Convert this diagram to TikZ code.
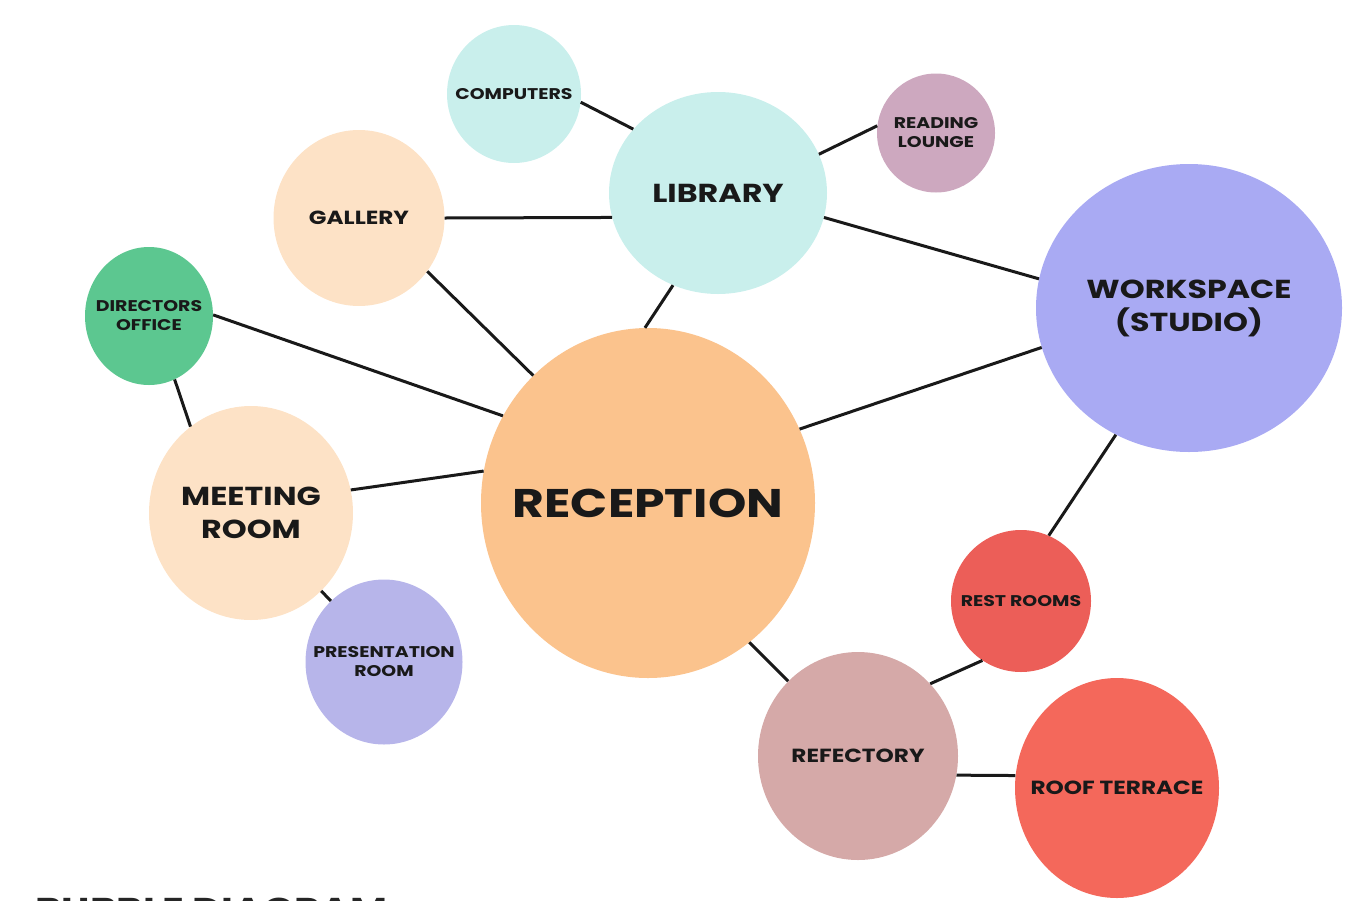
\documentclass[tikz,border=0pt]{standalone}
\usepackage{fontspec}
\setmainfont{Poppins}[FakeStretch=1.22]
\usetikzlibrary{positioning,shapes.geometric}

\definecolor{libcol}{HTML}{C9EFEC}
\definecolor{readcol}{HTML}{CDA8BF}
\definecolor{peachcol}{HTML}{FDE2C6}
\definecolor{workcol}{HTML}{A9AAF3}
\definecolor{dircol}{HTML}{5CC790}
\definecolor{reccol}{HTML}{FBC38D}
\definecolor{prescol}{HTML}{B7B5EA}
\definecolor{restcol}{HTML}{EC5E58}
\definecolor{refcol}{HTML}{D5A9A8}
\definecolor{roofcol}{HTML}{F4685B}

\tikzset{
  room/.style={ellipse, draw=none, inner sep=0pt},
  lbl/.style={align=center, text=black!90, font=\bfseries},
  txtS/.style={lbl, font=\bfseries\fontsize{15.5}{19}\selectfont},
  txtM/.style={lbl, font=\bfseries\fontsize{19}{23}\selectfont},
  txtL/.style={lbl, font=\bfseries\fontsize{26}{33}\selectfont},
  txtXL/.style={lbl, font=\bfseries\fontsize{40}{48}\selectfont},
  link/.style={line width=3pt, black!90}
}

\begin{document}
\begin{tikzpicture}[x=1pt, y=-1pt]
  \useasboundingbox (0,0) rectangle (1362,900);
  \clip (0,0) rectangle (1362,900);

  % Library cluster
  \node[room, fill=libcol, minimum width=134pt, minimum height=138pt,
        label={[txtS]center:COMPUTERS}] (comp) at (514,94) {};
  \node[room, fill=libcol, minimum width=218pt, minimum height=202pt,
        label={[txtL]center:LIBRARY}] (lib) at (718,193) {};
  \node[room, fill=readcol, minimum width=118pt, minimum height=119pt,
        label={[txtS]center:{READING\\LOUNGE}}] (read) at (936,133) {};
  \node[room, fill=peachcol, minimum width=171pt, minimum height=176pt,
        label={[txtM]center:GALLERY}] (gal) at (359,218) {};

  % Workspace
  \node[room, fill=workcol, minimum width=306pt, minimum height=288pt,
        label={[txtL]center:{WORKSPACE\\(STUDIO)}}] (work) at (1189,308) {};

  % Left side
  \node[room, fill=dircol, minimum width=128pt, minimum height=138pt,
        label={[txtS]center:{DIRECTORS\\OFFICE}}] (dir) at (149,316) {};
  \node[room, fill=peachcol, minimum width=204pt, minimum height=214pt,
        label={[txtL]center:{MEETING\\ROOM}}] (meet) at (251,513) {};
  \node[room, fill=prescol, minimum width=157pt, minimum height=165pt,
        label={[txtS]center:{PRESENTATION\\ROOM}}] (pres) at (384,662) {};

  % Reception
  \node[room, fill=reccol, minimum width=334pt, minimum height=350pt,
        label={[txtXL]center:RECEPTION}] (rec) at (648,503) {};

  % Bottom right
  \node[room, fill=restcol, minimum width=140pt, minimum height=142pt,
        label={[txtS]center:REST ROOMS}] (rest) at (1021,601) {};
  \node[room, fill=refcol, minimum width=200pt, minimum height=208pt,
        label={[txtM]center:REFECTORY}] (refec) at (858,756) {};
  \node[room, fill=roofcol, minimum width=204pt, minimum height=220pt,
        label={[txtM]center:ROOF TERRACE}] (roof) at (1117,788) {};

  % Title, cut off at the bottom edge
  \node[anchor=base west, inner sep=0pt, font=\bfseries\fontsize{33}{40}\selectfont, text=black!85]
    (title) at (35,921) {BUBBLE DIAGRAM};

  % Links
  \draw[link] (comp.-7) -- (lib.143.5);
  \draw[link] (read.173) -- (lib.21.8);
  \draw[link] (gal.0) -- (lib.193.9);
  \draw[link] (lib.-13) -- (work.169.3);
  \draw[link] (lib.244.4) -- (rec.91);
  \draw[link] (gal.-38) -- (rec.132.3);
  \draw[link] (dir.1) -- (rec.149.7);
  \draw[link] (dir.-68.5) -- (meet.125.2);
  \draw[link] (meet.13) -- (rec.169.9);
  \draw[link] (meet.-48.6) -- (pres.131.2);
  \draw[link] (rec.26.1) -- (work.195.9);
  \draw[link] (work.240.9) -- (rest.67.1);
  \draw[link] (rec.-54.1) -- (refec.133);
  \draw[link] (refec.45) -- (rest.237.9);
  \draw[link] (refec.-11.3) -- (roof.173.2);
\end{tikzpicture}
\end{document}
